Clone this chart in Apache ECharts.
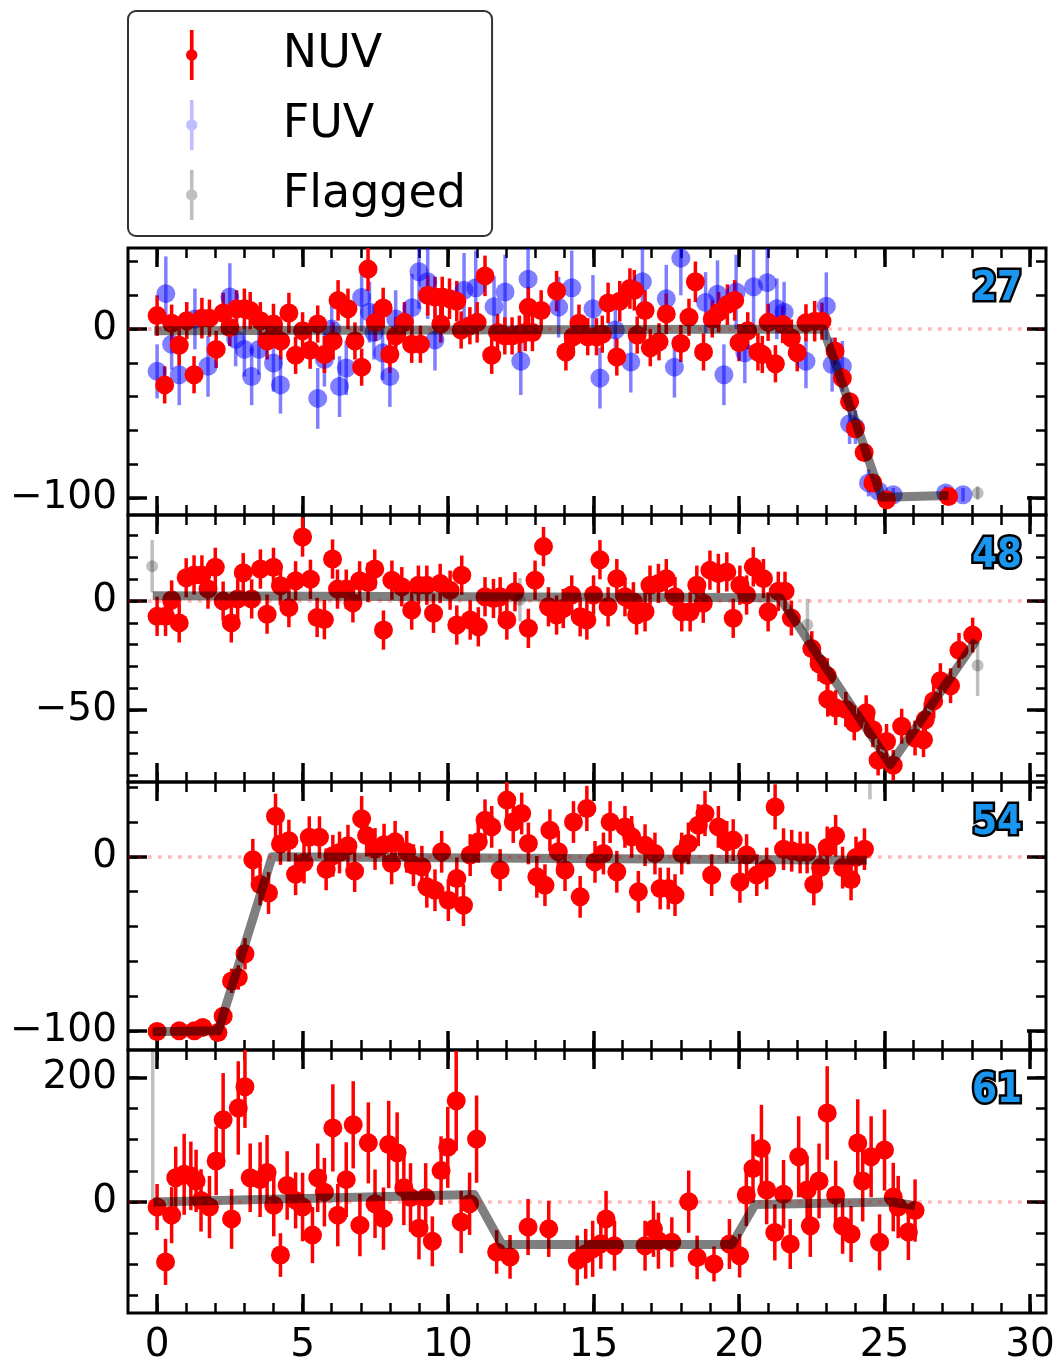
<!DOCTYPE html>
<html><head><meta charset="utf-8">
<script src="https://cdn.jsdelivr.net/npm/echarts@6/dist/echarts.min.js"></script>
<style>html,body{margin:0;padding:0;background:#fff}#c{width:1058px;height:1365px}</style>
</head><body><div id="c"></div>
<script>
// ---------------- data ----------------
const xRange = [-1, 30.55];
const xMajorTicks = [0,5,10,15,20,25,30];
const xMinorTicks = [0,1,2,3,4,5,6,7,8,9,10,11,12,13,14,15,16,17,18,19,20,21,22,23,24,25,26,27,28,29,30];
const panelLabels = ['27','48','54','61'];
const yRanges = [[-110,48],[-83,39.5],[-111,43],[-178,244]];
const yMajorTicks = [[-100,0],[-50,0],[-100,0],[0,200]];
const yMinorTicks = [[-100,-80,-60,-40,-20,0,20,40],[-80,-70,-60,-50,-40,-30,-20,-10,0,10,20,30],[-100,-80,-60,-40,-20,0,20,40],[-150,-100,-50,0,50,100,150,200]];

// [time, value, error]
const nuv1 = [[0.0,8,12],[0.26,-33,11],[0.5,3.5,11],[0.76,-9.5,12],[1.02,5,11],[1.27,-27,11],[1.54,6.5,12],[1.8,6.5,11],[2.03,-12,11],[2.27,9.5,12],[2.5,1,11],[2.73,12,11],[3.0,12,12],[3.2,11,11],[3.55,5,11],[3.78,-7,11],[4.0,3,12],[4.25,-7,11],[4.53,9.5,12],[4.76,-15.5,11],[5.0,-1,11],[5.26,-12.5,11],[5.52,3,11],[5.75,-15,11],[6.05,-7,11],[6.22,17,12],[6.56,12,12],[6.8,-7,11],[7.03,-22.5,11],[7.25,35.5,13],[7.5,4,11],[7.77,12.5,12],[8.0,-15,11],[8.2,-4,11],[8.5,4,12],[8.75,-9,11],[9.05,-9,11],[9.3,20,12],[9.55,19,12],[9.75,3,11],[9.8,19,12],[10.05,18,12],[10.3,16.5,12],[10.45,-0.5,11],[10.75,2,11],[11.0,4,12],[11.27,31.5,12],[11.5,-15.5,11],[11.7,-2,11],[11.95,-4,11],[12.2,-4,11],[12.45,-3,11],[12.65,-2,11],[12.76,13,12],[12.9,-2,11],[13.2,11,12],[13.73,22.5,12],[14.05,-13.5,11],[14.3,-4.5,11],[14.5,3.5,11],[14.8,-4.5,11],[15.1,-4.5,11],[15.3,-3,11],[15.5,15.5,12],[15.8,-16.5,11],[15.9,16.5,12],[16.25,24,12],[16.4,23,12],[16.5,-3.5,11],[16.77,11,12],[16.95,-11,11],[17.25,-7.5,11],[17.5,9,12],[18.0,-8.5,11],[18.28,7,11],[18.5,28,12],[18.78,-13.5,11],[19.08,6,11],[19.3,10,12],[19.6,14.5,12],[19.85,17,12],[20.0,-8,11],[20.3,-1,11],[20.65,-13.5,11],[20.8,-15,11],[21.0,4,11],[21.25,-20.5,11],[21.5,2.7,11],[21.8,-5.3,11],[22.0,-14,11],[22.3,3.7,11],[22.6,4.7,12],[22.85,4.7,11],[23.3,-13,8],[23.55,-29,6],[23.8,-43,5],[24.0,-59,5],[24.3,-73,4],[24.6,-91,4],[25.07,-101,3],[27.2,-99,3]];
const fuv1 = [[0.0,-25,16],[0.3,21,22],[0.5,-9,15],[0.76,-27,18],[1.3,6,18],[1.75,-22,18],[2.5,19,20],[2.7,-6,16],[3.0,-12,16],[3.25,-28,17],[3.5,-12,15],[4.0,-20,17],[4.24,-33,17],[5.52,-41,18],[5.75,-18,16],[6.0,0,16],[6.27,-34,18],[6.5,-23,16],[7.03,18.7,20],[7.3,10,18],[7.45,-2,16],[7.75,-14,16],[8.0,-28,18],[8.2,6,17],[8.76,12.7,20],[9.0,34,22],[9.3,28,22],[9.55,-6.5,18],[10.55,23,22],[10.95,24.5,22],[11.58,13.3,18],[11.96,22,22],[12.5,-19,20],[12.75,29.5,22],[13.8,13,18],[14.25,24.5,22],[14.98,12,20],[15.22,-29,18],[15.75,-0.5,18],[16.28,-19.5,18],[16.68,28,22],[17.5,18,20],[17.78,-22.5,18],[18.0,42,22],[18.85,15.7,18],[19.26,20.7,20],[19.48,-27,18],[19.9,22,22],[20.2,-14,18],[20.5,25,22],[20.97,27.5,22],[21.3,12,18],[21.55,10,18],[22.3,-19,16],[23.0,13.6,20],[23.2,-21,16],[23.55,-22,15],[23.8,-56,12],[24.0,-58,10],[24.45,-91,8],[24.8,-96,5],[25.3,-98,4],[27.1,-97,4],[27.7,-98,4]];
const flag1 = [[28.2,-97,4]];
const model1 = [[-0.1,-1],[22.9,0],[24.9,-99.5],[27.2,-98.5]];

const nuv2 = [[0.0,-7,9],[0.29,-7,9],[0.5,0.5,9],[0.76,-10,9],[1.0,10.7,9],[1.27,12,9],[1.54,12,9],[1.75,5.5,9],[2.0,15.5,9],[2.27,0,9],[2.55,-10,9],[2.77,1,9],[2.96,13,9],[3.25,1,9],[3.55,14.7,9],[3.78,-6,9],[4.0,15.5,9],[4.24,7,9],[4.53,-3,9],[4.76,9.3,9],[5.0,29.4,9],[5.27,10,9],[5.5,-7.5,9],[5.75,-8.5,9],[6.03,19.3,9],[6.2,5.5,9],[6.5,5.5,9],[6.73,-0.8,9],[6.96,9.3,9],[7.25,8.5,9],[7.48,14.7,9],[7.78,-13.3,9],[8.07,9.6,9],[8.41,6.6,9],[8.75,-4.1,9],[8.98,7.3,9],[9.27,7.3,9],[9.5,-5.6,9],[9.73,8.1,9],[10.07,5,9],[10.3,-11,9],[10.47,11.9,9],[10.76,-8.7,9],[11.04,-11.8,9],[11.27,2,9],[11.56,1.2,9],[11.79,2,9],[12.02,-8.7,9],[12.3,4.3,9],[12.76,-12.5,9],[12.99,9.6,9],[13.28,25,9],[13.45,-2.6,9],[13.73,-6.4,9],[13.96,-3.4,9],[14.25,2.8,9],[14.54,-7.2,9],[14.77,-8.7,9],[15.0,2.8,9],[15.22,19,9],[15.5,-2.6,9],[15.8,10.3,9],[16.08,2,9],[16.37,-0.3,9],[16.48,-6.4,9],[16.77,-4.9,9],[16.94,7.3,9],[17.23,8.1,9],[17.5,10.3,9],[17.8,2,9],[18.03,-4.9,9],[18.32,-4.9,9],[18.55,7.3,9],[18.77,-1,9],[19.0,14.2,9],[19.29,12.7,9],[19.58,13.4,9],[19.8,-7.9,9],[20.03,7.3,9],[20.26,2.8,9],[20.49,15.7,9],[20.84,10.3,9],[21.0,-4.9,9],[21.35,4.5,9],[21.58,4.5,9],[21.8,-7.8,8],[22.5,-21.8,8],[22.75,-28.8,8],[23.03,-34.2,8],[23.05,-45,8],[23.32,-48.9,8],[23.67,-49.7,8],[23.96,-55.9,8],[24.37,-51.2,8],[24.6,-59,8],[24.78,-73,7],[25.07,-64.4,8],[25.3,-75.3,7],[25.59,-57.4,8],[26.05,-62.8,8],[26.34,-63.6,8],[26.4,-54.4,8],[26.69,-45.8,8],[26.92,-36.5,8],[27.27,-38.8,8],[27.56,-22.6,8],[28.03,-15.6,8]];
const flag2 = [[-0.17,16,12],[12.47,0.6,10],[22.35,-10.9,12],[28.2,-29.5,14]];
const model2 = [[-0.15,2.5],[21.4,1.5],[25.2,-75],[28.15,-18]];

const nuv3 = [[0.0,-100.4,2],[0.76,-100,2],[1.28,-100,2],[1.57,-98,2],[2.09,-101,2],[2.27,-91.6,4],[2.56,-71.3,7],[2.79,-69.3,7],[3.02,-55.7,9],[3.29,-1.7,12],[3.54,-15.9,12],[3.83,-20.8,12],[4.07,23.3,13],[4.24,7.4,12],[4.53,9.3,12],[4.76,-10,12],[5.05,-3.3,12],[5.23,11.3,12],[5.58,11.3,12],[5.81,-7.2,12],[6.04,0.6,12],[6.27,2.5,12],[6.56,6.4,12],[6.79,-8.2,12],[7.03,21.9,13],[7.2,12.2,12],[7.49,4.5,12],[7.8,7,12],[8.06,-3.8,12],[8.18,8.6,12],[8.58,2.9,12],[8.81,-4.8,12],[9.1,-5.7,12],[9.27,-17.2,12],[9.55,-19.2,12],[9.78,2.9,12],[10.01,-24.9,12],[10.3,-12.4,12],[10.53,-27.8,12],[10.76,1,12],[11.04,8.6,12],[11.27,21,12],[11.5,17.2,12],[11.79,-7.6,12],[12.02,32.6,13],[12.24,20,12],[12.53,24.9,12],[12.76,7.7,12],[13.05,-11.5,12],[13.33,-16.3,12],[13.5,15.3,12],[13.79,2.9,12],[14.02,-7.6,12],[14.31,20,12],[14.54,-23,12],[14.77,27.8,13],[15.05,-2.9,12],[15.34,1.9,12],[15.57,20,12],[15.8,-8.6,12],[16.08,17.2,12],[16.31,11.5,12],[16.54,-20.1,12],[16.77,6.7,12],[17.11,1.9,12],[17.29,-18.2,12],[17.57,-18.2,12],[17.8,-22,12],[18.03,1.9,12],[18.26,7.7,12],[18.6,18.2,12],[18.83,24.9,13],[19.06,-10.5,12],[19.29,17.2,12],[19.58,8.6,12],[19.8,9.6,12],[20.03,-14.4,12],[20.26,1,12],[20.61,-10.5,12],[20.95,-6.7,12],[21.24,28.7,13],[21.53,4.4,12],[21.81,3.5,12],[22.1,2.5,12],[22.34,2.5,12],[22.57,-15.9,12],[22.8,-6.2,12],[23.03,5.4,12],[23.32,12.1,12],[23.56,-6.2,12],[23.85,-13,12],[24.02,-0.4,12],[24.31,4.4,12]];
const flag3 = [[24.5,55,22]];
const model3 = [[-0.15,-100.5],[2.1,-100],[3.95,0],[24.4,-2]];

const nuv4 = [[0.0,-8,37],[0.29,-96,37],[0.5,-21,45],[0.64,39,50],[0.93,44.5,65],[1.16,42,55],[1.34,34,50],[1.51,2.7,50],[1.8,-8,50],[2.03,66,55],[2.27,132,75],[2.56,-27,48],[2.79,151,75],[3.02,185,66],[3.2,39,55],[3.54,36,60],[3.78,47.5,60],[4.01,-5,50],[4.24,-85,35],[4.47,26.6,55],[4.76,2.7,45],[5.0,-8,55],[5.34,-53,45],[5.52,39,55],[5.75,15.9,55],[6.04,119,70],[6.21,-21,50],[6.5,36,60],[6.74,124,70],[6.97,-37,50],[7.26,95,65],[7.49,-2.7,55],[7.78,-26.6,50],[7.96,92.4,70],[8.25,79,65],[8.48,23,60],[8.71,7.4,55],[9.0,-42,50],[9.23,7.4,55],[9.46,-63,40],[9.76,50.5,55],[9.99,87.8,65],[10.28,162.5,80],[10.45,-32,50],[10.74,-2.7,50],[10.98,101,70],[11.67,-80,35],[12.13,-88,35],[12.75,-40,45],[13.46,-43,45],[14.44,-93.6,40],[14.73,-83,40],[14.97,-75,45],[15.25,-67,40],[15.43,-27,45],[15.72,-70,40],[16.77,-70,40],[17.06,-43,45],[17.23,-62,45],[17.69,-64.5,40],[18.27,0.7,50],[18.56,-88.8,35],[19.14,-99.4,28],[19.67,-67.3,40],[20.02,-86,35],[20.25,11.4,50],[20.48,54,55],[20.77,86,70],[20.95,19.4,55],[21.23,-48.7,45],[21.53,12.5,55],[21.76,-67.3,40],[22.05,72.7,65],[22.34,19.4,55],[22.45,-38,50],[22.75,33.9,60],[23.03,143,75],[23.32,11.4,55],[23.56,-38,45],[23.85,-51.3,45],[24.08,94.9,70],[24.25,33.9,65],[24.54,72.7,65],[24.83,-64.6,45],[25.0,83.5,65],[25.3,8,55],[25.47,-8,50],[25.82,-48,45],[26.05,-13.6,50]];
const flag4 = [[-0.15,300,300]];
const model4 = [[-0.12,0],[10.9,12],[11.85,-68],[19.75,-68],[20.55,-4],[25.25,0],[26.05,-6]];

// ---------------- layout / style ----------------
const FONT = "'DejaVu Sans', sans-serif";
const layout = [{top:248,h:267},{top:515,h:267},{top:782,h:268},{top:1050,h:268}];
const panels = [
  {nuv:nuv1, fuv:fuv1, flag:flag1, model:model1},
  {nuv:nuv2, fuv:[], flag:flag2, model:model2},
  {nuv:nuv3, fuv:[], flag:flag3, model:model3},
  {nuv:nuv4, fuv:[], flag:flag4, model:model4}
];
const fmt = v => (v < 0 ? '\u2212' + (-v) : '' + v);

const grids = [], xAxes = [], yAxes = [], series = [];
layout.forEach((g, i) => {
  grids.push({left:128, width:918, top:g.top, height:g.h, show:true, borderColor:'#000', borderWidth:3, backgroundColor:'transparent'});
  const xb = {type:'value', gridIndex:i, min:xRange[0], max:xRange[1], splitLine:{show:false}, axisLine:{show:false, onZero:false}};
  ['bottom','top'].forEach(pos => {
    xAxes.push(Object.assign({}, xb, {position:pos,
      axisTick:{show:true, inside:true, length:19, lineStyle:{width:3.5, color:'#000'}, customValues:xMajorTicks},
      axisLabel:{show:(pos==='bottom' && i===3), customValues:xMajorTicks, fontSize:39, fontFamily:FONT, color:'#000', margin:13}}));
    xAxes.push(Object.assign({}, xb, {position:pos,
      axisTick:{show:true, inside:true, length:10, lineStyle:{width:2.5, color:'#000'}, customValues:xMinorTicks},
      axisLabel:{show:false}}));
  });
  const yb = {type:'value', gridIndex:i, min:yRanges[i][0], max:yRanges[i][1], splitLine:{show:false}, axisLine:{show:false, onZero:false}};
  ['left','right'].forEach(pos => {
    yAxes.push(Object.assign({}, yb, {position:pos,
      axisTick:{show:true, inside:true, length:19, lineStyle:{width:3.5, color:'#000'}, customValues:yMajorTicks[i]},
      axisLabel:{show:pos==='left', customValues:yMajorTicks[i], fontSize:39, fontFamily:FONT, color:'#000', margin:11, formatter:fmt}}));
    yAxes.push(Object.assign({}, yb, {position:pos,
      axisTick:{show:true, inside:true, length:10, lineStyle:{width:2.5, color:'#000'}, customValues:yMinorTicks[i]},
      axisLabel:{show:false}}));
  });
  const xi = i*4, yi = i*4;
  const bars = (name, data, color, w) => ({
    type:'custom', name, xAxisIndex:xi, yAxisIndex:yi, data, clip:true, silent:true,
    dimensions:['x','y','e'], encode:{x:0, y:1},
    itemStyle:{color},
    renderItem:(params, api) => {
      const x = api.value(0), y = api.value(1), e = api.value(2);
      const a = api.coord([x, y - e]), b = api.coord([x, y + e]);
      return {type:'line', shape:{x1:a[0], y1:a[1], x2:b[0], y2:b[1]}, style:{stroke:color, lineWidth:w, fill:null}};
    }
  });
  const marks = (name, data, color, size) => ({
    type:'scatter', name, xAxisIndex:xi, yAxisIndex:yi, data, clip:true, silent:true,
    encode:{x:0, y:1}, symbol:'circle', symbolSize:size, itemStyle:{color, opacity:1, borderWidth:0}
  });
  const p = panels[i];
  if (p.fuv.length) {
    series.push(bars('FUV', p.fuv, 'rgba(0,0,255,0.5)', 3.5));
    series.push(marks('FUV', p.fuv, 'rgba(0,0,255,0.5)', 19));
  }
  series.push(bars('NUV', p.nuv, '#ff0000', 3.5));
  series.push(marks('NUV', p.nuv, '#ff0000', 19));
  series.push(bars('Flagged', p.flag, 'rgba(0,0,0,0.25)', 3.5));
  series.push(marks('Flagged', p.flag, 'rgba(0,0,0,0.25)', 12));
  series.push({
    type:'line', name:'model', xAxisIndex:xi, yAxisIndex:yi, data:p.model, clip:true, silent:true,
    symbol:'none', showSymbol:false,
    lineStyle:{color:'rgba(0,0,0,0.5)', width:9, join:'round', cap:'butt', opacity:1},
    markLine:{silent:true, symbol:'none', label:{show:false},
      lineStyle:{color:'rgba(255,0,0,0.28)', width:3.6, type:[3.7,6.3], cap:'butt', opacity:1},
      data:[{yAxis:0}]}
  });
});

const iconPath = 'path://M8.25,1L11.75,1L11.75,49L8.25,49Z M15.5,25A5.5,5.5,0,1,1,4.5,25A5.5,5.5,0,1,1,15.5,25Z';
const titles = panelLabels.map((t, i) => ({
  text:t, right:31, top:layout[i].top + 22, padding:0,
  textStyle:{fontFamily:"'DejaVu Sans Condensed','DejaVu Sans',sans-serif", fontWeight:'bold', fontSize:40,
    color:'#1a96f0', textBorderColor:'#000', textBorderWidth:5}
}));

const chart = echarts.init(document.getElementById('c'), null, {renderer:'canvas'});
chart.setOption({
  animation:false,
  backgroundColor:'#fff',
  title:titles,
  grid:grids, xAxis:xAxes, yAxis:yAxes, series,
  legend:{
    show:true, orient:'vertical', left:128, top:11,
    padding:[19,26,16,58], itemGap:20, itemWidth:20, itemHeight:50,
    borderColor:'#333', borderWidth:2, borderRadius:8, backgroundColor:'#fff',
    selectedMode:false,
    textStyle:{fontSize:46, fontFamily:FONT, color:'#000', padding:[0,0,0,76]},
    data:[
      {name:'NUV', icon:iconPath, itemStyle:{color:'#ff0000', borderWidth:0}},
      {name:'FUV', icon:iconPath, itemStyle:{color:'rgba(0,0,255,0.25)', borderWidth:0}},
      {name:'Flagged', icon:iconPath, itemStyle:{color:'rgba(0,0,0,0.25)', borderWidth:0}}
    ]
  }
});
</script>
</body></html>
